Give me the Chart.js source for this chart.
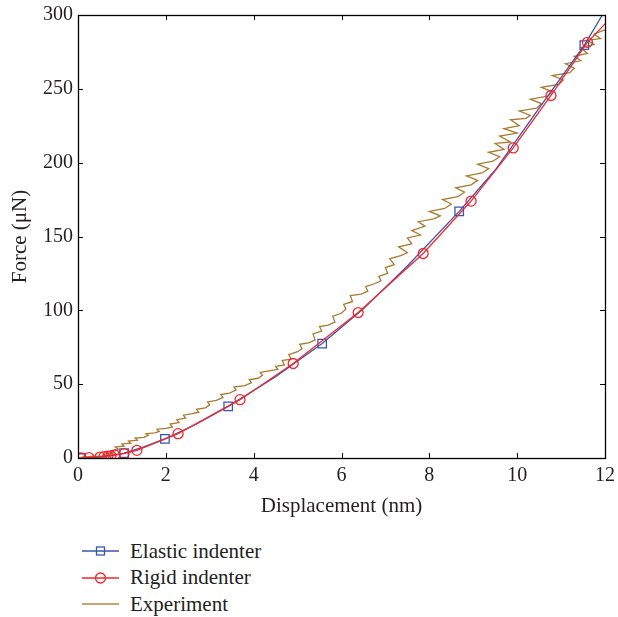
<!DOCTYPE html>
<html lang="en">
<head>
  <meta charset="UTF-8">
  <title>Force vs displacement</title>
  <script src="https://cdn.jsdelivr.net/npm/chart.js"></script>
  <style>
    body { margin: 0; background: #fff; }
    #wrap { position: relative; width: 618px; height: 617px; }
    #legend { position: absolute; left: 82px; top: 538px; font-family: "Liberation Serif", serif; font-size: 21px; color: #231f20; }
    #legend div { height: 26.5px; display: flex; align-items: center; }
    #legend svg { margin-right: 11px; }
  </style>
</head>
<body>
<div id="wrap">
  <canvas id="graph" width="618" height="530"></canvas>
  <div id="legend">
    <div><svg width="37" height="14"><line x1="0" y1="7" x2="37" y2="7" stroke="#3a56a8" stroke-width="1.3"/><rect x="14.5" y="3" width="8" height="8" fill="none" stroke="#3a56a8" stroke-width="1.3"/></svg>Elastic indenter</div>
    <div><svg width="37" height="14"><line x1="0" y1="7" x2="37" y2="7" stroke="#f0282e" stroke-width="1.3"/><circle cx="18.5" cy="7" r="5" fill="none" stroke="#f0282e" stroke-width="1.3"/></svg>Rigid indenter</div>
    <div><svg width="37" height="14"><line x1="0" y1="7" x2="37" y2="7" stroke="#b08a48" stroke-width="1.5"/></svg>Experiment</div>
  </div>
</div>

<script>
  // Elastic indenter (model), line points + which ones carry a square marker
  const elasticX = [0.07, 0.5, 1.05, 1.5, 1.98, 2.7, 3.42, 4.5, 5.56, 6.5, 7.5, 8.68, 9.5, 10.5, 11.53, 11.94];
  const elasticY = [0, 0.7, 3.3, 7.5, 13, 23, 35, 55, 77.5, 101, 130, 167, 195, 237, 279.6, 300];
  const elasticMarks = [0, 2, 4, 6, 8, 11, 14];

  // Rigid indenter (model)
  const rigidX = [0.07, 0.25, 0.5, 0.59, 0.68, 0.75, 0.84, 1.05, 1.34, 2.28, 3.69, 4.9, 6.38, 7.86, 8.95, 9.91, 10.77, 11.6, 12];
  const rigidY = [0, 0.2, 0.6, 0.9, 1.2, 1.5, 2.0, 3.0, 5.2, 16.5, 39.5, 64, 98.5, 138.5, 174, 210, 245.5, 281.5, 294];
  const rigidMarks = [0, 1, 2, 3, 4, 5, 6, 7, 8, 9, 10, 11, 12, 13, 14, 15, 16, 17];

  // Experiment (noisy measured curve)
  const expX = [0, 0.1, 0.3, 0.5, 0.6, 0.7, 0.65, 0.8, 0.75, 0.92, 0.85, 1.05, 1.0, 1.2, 1.15, 1.35, 1.3, 1.5, 1.6, 1.55,
    1.75, 1.85, 1.8, 2.0, 2.15, 2.1, 2.3, 2.25, 2.45, 2.4, 2.6, 2.75, 2.7, 2.9, 3.0, 2.95, 3.15, 3.3, 3.25, 3.45,
    3.6, 3.55, 3.8, 3.95, 3.9, 4.1, 4.2, 4.15, 4.35, 4.55, 4.5, 4.7, 4.65, 4.85, 4.8, 5.0, 5.1, 5.05, 5.25, 5.4,
    5.35, 5.55, 5.5, 5.7, 5.85, 5.8, 6.0, 6.1, 6.05, 6.25, 6.2, 6.45, 6.6, 6.55, 6.75, 6.9, 6.85, 7.05, 7.0, 7.2,
    7.1, 7.35, 7.5, 7.3, 7.6, 7.5, 7.8, 7.6, 7.9, 7.75, 8.1, 8.25, 8.0, 8.35, 8.5, 8.3, 8.65, 8.8, 8.6, 8.95,
    9.1, 8.85, 9.2, 9.35, 9.1, 9.45, 9.6, 9.35, 9.7, 9.5, 9.85, 9.6, 10.0, 9.7, 10.05, 9.85, 10.2, 10.3, 10.05, 10.45,
    10.55, 10.3, 10.7, 10.8, 10.55, 10.95, 11.05, 10.8, 11.2, 11.3, 11.1, 11.45, 11.3, 11.6, 11.45, 11.75, 11.6, 11.9, 11.75, 12.0];
  const expY = [0, 0.5, 1, 1.2, 1.5, 2, 3, 3.5, 5, 6, 7.5, 8, 9.5, 10, 11.5, 12, 13.5, 14, 15.5, 16.5,
    17, 18, 19.5, 20, 21, 23, 24, 26, 27, 29, 30, 31, 33, 34, 36, 38, 39, 41, 43, 44,
    46, 48, 49, 51, 53, 54, 56, 58, 59, 60, 62, 63, 66, 67, 70, 72, 74, 77, 78, 80,
    84, 86, 89, 90, 92, 96, 98, 101, 104, 106, 110, 111, 113, 116, 118, 120, 123, 125, 129, 131,
    135, 137, 139, 143, 145, 149, 151, 154, 157, 160, 162, 164, 167, 169, 172, 175, 177, 180, 183, 185,
    188, 191, 193, 196, 199, 201, 204, 207, 209, 213, 214, 218, 220, 223, 225, 229, 230, 232, 235, 237,
    240, 243, 245, 248, 251, 253, 256, 259, 261, 264, 267, 269, 272, 274, 278, 280, 283, 284, 287, 290];

  const xTicks = [0, 2, 4, 6, 8, 10, 12];
  const yTicks = [0, 50, 100, 150, 200, 250, 300];

  const pts = (xs, ys) => xs.map((x, i) => ({ x: x, y: ys[i] }));
  const serif = '"Liberation Serif", "DejaVu Serif", serif';

  // box around the plot with inward ticks on all four sides
  const boxTicks = {
    id: 'boxTicks',
    afterDraw(chart) {
      const { ctx, chartArea: a, scales } = chart;
      ctx.save();
      ctx.strokeStyle = '#000';
      ctx.lineWidth = 1;
      ctx.beginPath();
      xTicks.forEach(v => {
        const p = Math.round(scales.x.getPixelForValue(v)) + 0.5;
        ctx.moveTo(p, a.bottom); ctx.lineTo(p, a.bottom - 5);
        ctx.moveTo(p, a.top); ctx.lineTo(p, a.top + 5);
      });
      yTicks.forEach(v => {
        const p = Math.round(scales.y.getPixelForValue(v)) + 0.5;
        ctx.moveTo(a.left, p); ctx.lineTo(a.left + 5, p);
        ctx.moveTo(a.right, p); ctx.lineTo(a.right - 5, p);
      });
      ctx.stroke();
      ctx.lineWidth = 1.3;
      ctx.strokeRect(Math.round(a.left) + 0.5, Math.round(a.top) + 0.5, Math.round(a.right - a.left), Math.round(a.bottom - a.top));
      ctx.restore();
    }
  };

  new Chart(document.getElementById('graph'), {
    type: 'line',
    data: {
      datasets: [
        {
          label: 'Elastic indenter',
          data: pts(elasticX, elasticY),
          borderColor: '#3a56a8',
          borderWidth: 1.3,
          pointStyle: 'rect',
          pointRadius: c => elasticMarks.includes(c.dataIndex) ? 6 : 0,
          pointBorderColor: '#3a56a8',
          pointBackgroundColor: 'rgba(0,0,0,0)',
          pointBorderWidth: 1.3,
          order: 2
        },
        {
          label: 'Rigid indenter',
          data: pts(rigidX, rigidY),
          borderColor: '#f0282e',
          borderWidth: 1.3,
          pointStyle: 'circle',
          pointRadius: c => rigidMarks.includes(c.dataIndex) ? 5 : 0,
          pointBorderColor: '#f0282e',
          pointBackgroundColor: 'rgba(0,0,0,0)',
          pointBorderWidth: 1.3,
          order: 1
        },
        {
          label: 'Experiment',
          data: pts(expX, expY),
          borderColor: '#a87b2f',
          borderWidth: 1.3,
          pointRadius: 0,
          order: 3
        }
      ]
    },
    options: {
      responsive: false,
      animation: false,
      layout: { padding: { left: 0, right: 13, top: 15, bottom: 0 } },
      plugins: { legend: { display: false }, tooltip: { enabled: false } },
      elements: { line: { tension: 0 } },
      scales: {
        x: {
          type: 'linear', min: 0, max: 12,
          afterBuildTicks: s => { s.ticks = xTicks.map(v => ({ value: v })); },
          afterFit: s => { s.height = 72; s.paddingLeft = 0; s.paddingRight = 0; },
          grid: { display: false, drawTicks: false },
          border: { display: false },
          ticks: { padding: 6, color: '#231f20', font: { family: serif, size: 20 } },
          title: { display: true, text: 'Displacement (nm)', color: '#231f20', font: { family: serif, size: 21 }, padding: { top: 0, bottom: 11 } }
        },
        y: {
          type: 'linear', min: 0, max: 300,
          afterBuildTicks: s => { s.ticks = yTicks.map(v => ({ value: v })); },
          afterFit: s => { s.width = 78; s.paddingTop = 0; s.paddingBottom = 0; },
          grid: { display: false, drawTicks: false },
          border: { display: false },
          ticks: { padding: 5, color: '#231f20', font: { family: serif, size: 20 } },
          title: { display: true, text: 'Force (μN)', color: '#231f20', font: { family: serif, size: 21 }, padding: { top: 8, bottom: 0 } }
        }
      }
    },
    plugins: [boxTicks]
  });
</script>
</body>
</html>
